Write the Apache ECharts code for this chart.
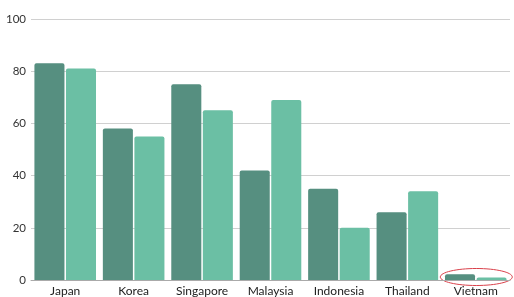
<!DOCTYPE html>
<html><head><meta charset="utf-8">
<script src="https://cdn.jsdelivr.net/npm/echarts@6/dist/echarts.min.js"></script>
<style>html,body{margin:0;padding:0;background:#fff}#c{width:514px;height:297px}</style>
</head><body><div id="c"></div>
<script>
const categories = ['Japan','Korea','Singapore','Malaysia','Indonesia','Thailand','Vietnam'];
const seriesA = [83, 58, 75, 42, 35, 26, 2.2];
const seriesB = [81, 55, 65, 69, 20, 34, 1.0];
const yTicks = [0, 20, 40, 60, 80, 100];

const chart = echarts.init(document.getElementById('c'));
const font = 'Lato, "Open Sans", sans-serif';
chart.setOption({
  animation: false,
  grid: {left: 31, right: 4, top: 19, bottom: 17},
  xAxis: {
    type: 'category', data: categories,
    axisLine: {lineStyle: {color: '#aaaaaa', width: 1}},
    axisTick: {show: false},
    axisLabel: {color: '#222', fontSize: 12, fontFamily: font, margin: 5}
  },
  yAxis: {
    type: 'value', min: yTicks[0], max: yTicks[yTicks.length-1], interval: 20,
    axisLine: {show: false}, axisTick: {show: false},
    axisLabel: {color: '#333', fontSize: 11.5, fontFamily: font, margin: 5},
    splitLine: {lineStyle: {color: '#d0d0d0', width: 1}}
  },
  series: [
    {type: 'bar', data: seriesA, barGap: '5%', barCategoryGap: '10%',
     itemStyle: {color: '#568f80', borderRadius: [2,2,0,0]}},
    {type: 'bar', data: seriesB,
     itemStyle: {color: '#6bbfa4', borderRadius: [2,2,0,0]}}
  ]
});
const last = categories.length - 1;
const p = chart.convertToPixel({gridIndex: 0}, [last, 0]);
chart.setOption({graphic: [{
  type: 'ellipse', shape: {cx: p[0] + 0.5, cy: p[1] - 3, rx: 36, ry: 8.5},
  style: {fill: 'none', stroke: '#d9404a', lineWidth: 1}
}]});
</script></body></html>
